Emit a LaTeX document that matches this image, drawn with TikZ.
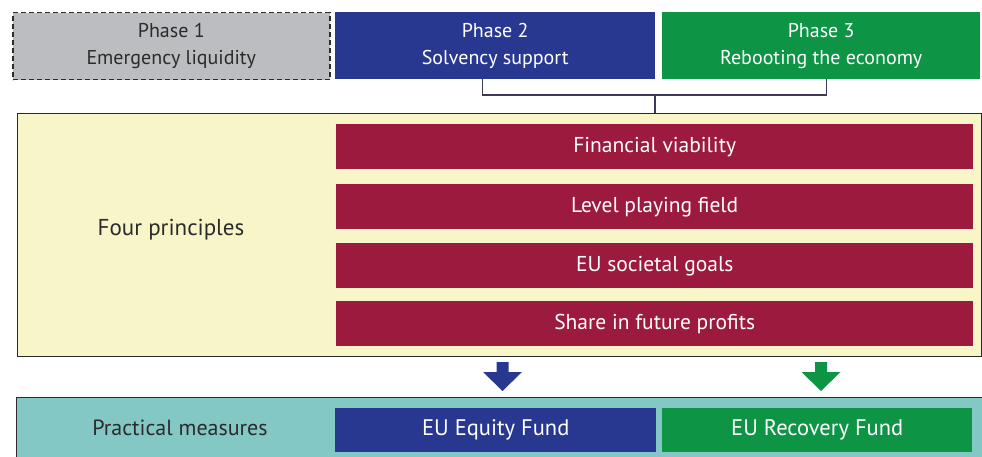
\documentclass[tikz,border=0pt]{standalone}
\usepackage{fontspec}
\setmainfont{PT Sans}
\usetikzlibrary{positioning}

\definecolor{phasegray}{HTML}{BCBDC0}
\definecolor{eqblue}{HTML}{283891}
\definecolor{recgreen}{HTML}{0E9445}
\definecolor{princred}{HTML}{9C1A3E}
\definecolor{princyellow}{HTML}{F8F6C8}
\definecolor{measteal}{HTML}{84C8C6}
\definecolor{darktext}{HTML}{2B2B2B}
\definecolor{bracketline}{HTML}{3A3A5A}

\tikzset{
  box/.style={inner sep=0pt, anchor=north west, align=center},
  phasebox/.style={box, minimum height=67, font=\fontsize{20}{27}\selectfont},
  redbar/.style={box, fill=princred, text=white, minimum width=637, minimum height=45,
    font=\fontsize{21.5}{26}\selectfont},
  fundbox/.style={box, text=white, minimum height=44, font=\fontsize{22.5}{27}\selectfont},
  bracket/.style={draw=bracketline, line width=1.2pt}
}

\begin{document}
\begin{tikzpicture}[x=1pt,y=-1pt]
\useasboundingbox (0,0) rectangle (982,457);

% phases
\node[phasebox, fill=phasegray, text=darktext, draw=darktext, line width=1.5pt,
  dash pattern=on 5pt off 3pt, minimum width=317] (phase1) at (12,12)
  {Phase 1\\Emergency liquidity};
\node[phasebox, fill=eqblue, text=white, minimum width=320] (phase2) at (335,12)
  {Phase 2\\Solvency support};
\node[phasebox, fill=recgreen, text=white, minimum width=318] (phase3) at (662,12)
  {Phase 3\\Rebooting the economy};

% principles
\node[box, fill=princyellow, draw=darktext, line width=1pt,
  minimum width=964, minimum height=243] (principles) at (17,113) {};
\node[font=\fontsize{23}{27}\selectfont, text=darktext] (fourlabel) at (171,230)
  {Four principles};
\node[redbar] (viability) at (336,124) {Financial viability};
\node[redbar] (playing) at (336,184) {Level playing field};
\node[redbar] (societal) at (336,243) {EU societal goals};
\node[redbar] (profits) at (336,301) {Share in future profits};

\coordinate (join) at (655,95);
\draw[bracket] ([xshift=-13]phase2.south) |- (join) -| ([xshift=5]phase3.south);
\draw[bracket] (join) -- (join |- principles.north);

% arrows
\fill[eqblue] (496.5,362) -- ++(12,0) -- ++(0,10) -- ++(13.5,0) -- ++(-19.5,19)
  -- ++(-19.5,-19) -- ++(13.5,0) -- cycle;
\fill[recgreen] (815,362) -- ++(12,0) -- ++(0,10) -- ++(13.5,0) -- ++(-19.5,19)
  -- ++(-19.5,-19) -- ++(13.5,0) -- cycle;

% measures
\node[box, fill=measteal, draw=darktext, line width=1pt,
  minimum width=967, minimum height=62] (measures) at (16,397) {};
\node[font=\fontsize{22}{26}\selectfont, text=darktext] (measlabel) at (180,428)
  {Practical measures};
\node[fundbox, fill=eqblue, minimum width=321] (equity) at (335,408) {EU Equity Fund};
\node[fundbox, fill=recgreen, minimum width=310] (recovery) at (662,408) {EU Recovery Fund};
\end{tikzpicture}
\end{document}
